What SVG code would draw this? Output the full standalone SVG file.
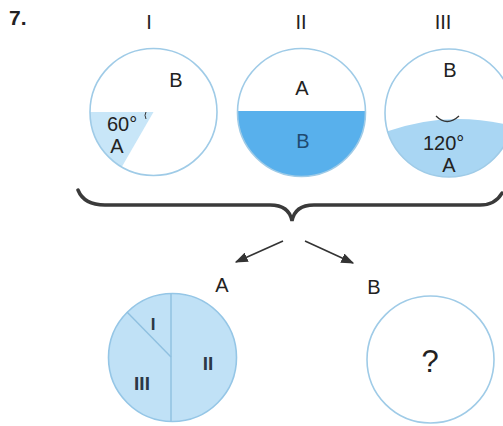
<svg xmlns="http://www.w3.org/2000/svg" width="503" height="426" viewBox="0 0 503 426">
<style>
.t{font-family:"Liberation Sans",Arial,sans-serif;fill:#222;font-size:20px}
.c{fill:none;stroke:#9fcbe7;stroke-width:1.6}
.mid{text-anchor:middle}
.conn{stroke:#333;stroke-width:1.6;fill:none}
.rn{font-size:19px;fill:#2b3845;font-weight:bold}
</style>
<defs>
<marker id="ah" viewBox="0 0 10 10" refX="9" refY="5" markerWidth="13" markerHeight="10" markerUnits="userSpaceOnUse" orient="auto" preserveAspectRatio="none">
<path d="M0,0 L10,5 L0,10 Z" fill="#333"/>
</marker>
<clipPath id="cp3"><circle cx="449" cy="113" r="64"/></clipPath>
<clipPath id="cp2"><circle cx="301.5" cy="112.5" r="64"/></clipPath>
</defs>
<rect width="503" height="426" fill="#fff"/>
<text x="9" y="25" class="t" style="font-weight:bold;font-size:21px">7.</text>

<g id="circle-I">
<text x="149" y="29" class="t mid">I</text>
<path d="M153.5,112 L90,112 A63.5,63.5 0 0 0 121.75,167 Z" fill="#c8e6f8"/>
<circle cx="153.5" cy="112" r="63.5" class="c"/>
<text x="176" y="87" class="t mid">B</text>
<text x="107" y="131" class="t">60°</text>
<path d="M146,112 Q144,115 146,119" fill="none" stroke="#333" stroke-width="1"/>
<text x="117" y="153" class="t mid">A</text>
</g>

<g id="circle-II">
<text x="301" y="29" class="t mid">II</text>
<rect x="237" y="111" width="130" height="70" fill="#58b0ec" clip-path="url(#cp2)"/>
<circle cx="301.5" cy="112.5" r="64" class="c"/>
<text x="302" y="95" class="t mid">A</text>
<text x="303" y="148" class="t mid" style="fill:#1f4a70">B</text>
</g>

<g id="circle-III">
<text x="443" y="29" class="t mid">III</text>
<path d="M380,134 Q447,108 516,127 L516,180 L380,180 Z" fill="#a9d6f3" clip-path="url(#cp3)"/>
<circle cx="449" cy="113" r="64" class="c"/>
<text x="450" y="77" class="t mid">B</text>
<path d="M436,116 Q447,127 459,116" fill="none" stroke="#333" stroke-width="1.3"/>
<text x="423" y="150" class="t">120°</text>
<text x="449" y="172" class="t mid">A</text>
</g>

<g id="connectors">
<path d="M78,190 C82,200 90,205 105,205 L270,205 C283,205 290,210 292,221 C294,210 301,205 314,205 L480,205 C492,205 498,200 502,193" fill="none" stroke="#3a3a3a" stroke-width="3.5" stroke-linecap="round"/>
<line x1="283" y1="241" x2="236" y2="262" class="conn" marker-end="url(#ah)"/>
<line x1="305" y1="241" x2="353" y2="263" class="conn" marker-end="url(#ah)"/>
</g>

<g id="result-A">
<text x="222" y="292" class="t mid">A</text>
<circle cx="172.5" cy="357.5" r="64" fill="#c0e1f6" stroke="#95c6e6" stroke-width="1.6"/>
<line x1="171" y1="293.5" x2="171" y2="421.5" stroke="#8fc0e0" stroke-width="1.4"/>
<line x1="127" y1="312" x2="171" y2="357" stroke="#8fc0e0" stroke-width="1.4"/>
<text x="153" y="330" class="t mid rn" style="font-size:17px">I</text>
<text x="208" y="370" class="t mid rn">II</text>
<text x="142" y="390" class="t mid rn">III</text>
</g>

<g id="result-B">
<text x="374" y="294" class="t mid">B</text>
<circle cx="430.5" cy="359.5" r="63.5" class="c"/>
<text x="430" y="372" class="t mid" style="font-size:31px">?</text>
</g>
</svg>
